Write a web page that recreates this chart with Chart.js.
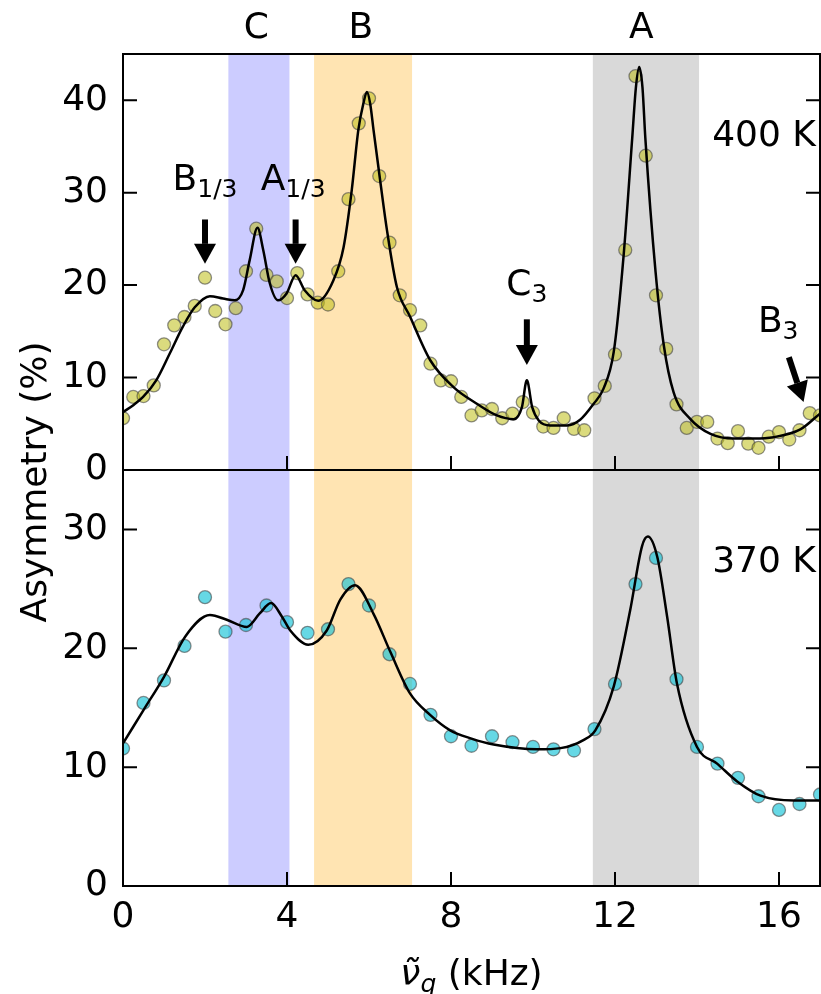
<!DOCTYPE html>
<html>
<head>
<meta charset="utf-8">
<script src="https://cdn.jsdelivr.net/npm/chart.js@4.4.1/dist/chart.umd.min.js"></script>
<style>
  html, body { margin: 0; padding: 0; background: #fff; }
  #wrap { position: relative; width: 821px; height: 994px; }
</style>
</head>
<body>
<div id="wrap"><canvas id="chart" width="821" height="994"></canvas></div>
<script>
// Measured points, 400 K panel (frequency in kHz, asymmetry in %)
const freq400 = [0, 0.25, 0.5, 0.75, 1, 1.25, 1.5, 1.75, 2, 2.25, 2.5, 2.75, 3, 3.25, 3.5, 3.75,
  4, 4.25, 4.5, 4.75, 5, 5.25, 5.5, 5.75, 6, 6.25, 6.5, 6.75, 7, 7.25, 7.5, 7.75, 8, 8.25, 8.5,
  8.75, 9, 9.25, 9.5, 9.75, 10, 10.25, 10.5, 10.75, 11, 11.25, 11.5, 11.75, 12, 12.25, 12.5,
  12.75, 13, 13.25, 13.5, 13.75, 14, 14.25, 14.5, 14.75, 15, 15.25, 15.5, 15.75, 16, 16.25,
  16.5, 16.75, 17];
const asym400 = [5.6, 7.9, 8.0, 9.15, 13.6, 15.65, 16.55, 17.75, 20.8, 17.2, 15.76, 17.5, 21.5,
  26.1, 21.1, 20.4, 18.6, 21.3, 19.0, 18.1, 17.9, 21.5, 29.3, 37.5, 40.2, 31.8, 24.6, 18.9, 17.3,
  15.65, 11.5, 9.7, 9.6, 7.9, 5.9, 6.45, 6.6, 5.6, 6.1, 7.35, 6.2, 4.7, 4.55, 5.6, 4.45, 4.3,
  7.75, 9.1, 12.5, 23.8, 42.6, 34.0, 18.9, 13.1, 7.1, 4.55, 5.2, 5.2, 3.4, 2.9, 4.2, 2.85, 2.4,
  3.6, 4.1, 3.3, 4.3, 6.15, 5.9];

// Fit curve, 400 K panel
const fitFreq400 = [0, 0.25, 0.49, 0.81, 1.14, 1.46, 1.75, 2.12, 2.44, 2.73, 2.93, 3.09, 3.28,
  3.42, 3.58, 3.78, 3.99, 4.21, 4.43, 4.76, 5.13, 5.38, 5.58, 5.74, 5.86, 5.95, 6.03, 6.11, 6.27,
  6.44, 6.68, 7.0, 7.49, 8.06, 8.63, 9.12, 9.53, 9.73, 9.85, 9.98, 10.14, 10.42, 10.83, 11.15,
  11.48, 11.72, 11.97, 12.21, 12.42, 12.51, 12.59, 12.67, 12.74, 12.99, 13.19, 13.43, 13.84,
  14.33, 14.9, 15.38, 15.87, 16.52, 17];
const fitAsym400 = [6.26, 7.0, 7.9, 9.7, 12.6, 15.5, 17.6, 18.8, 18.55, 18.36, 19.45, 22.7, 26.2,
  23.8, 20.2, 18.36, 19.1, 21.07, 19.45, 18.3, 20.5, 24.1, 30.3, 36.8, 39.6, 40.9, 39.6, 36.8,
  31.4, 25.9, 19.8, 16.6, 11.9, 8.97, 7.17, 5.9, 5.5, 6.8, 9.7, 6.8, 5.36, 4.82, 4.82, 5.43, 7.17,
  8.8, 12.8, 23.2, 35.9, 41.4, 43.6, 41.4, 35.9, 21.4, 13.5, 8.4, 5.5, 3.9, 3.4, 3.4, 3.55, 4.4,
  6.1];

// Measured points, 370 K panel
const freq370 = [0, 0.5, 1, 1.5, 2, 2.5, 3, 3.5, 4, 4.5, 5, 5.5, 6, 6.5, 7, 7.5, 8, 8.5, 9, 9.5,
  10, 10.5, 11, 11.5, 12, 12.5, 13, 13.5, 14, 14.5, 15, 15.5, 16, 16.5, 17];
const asym370 = [11.57, 15.4, 17.3, 20.2, 24.3, 21.4, 21.96, 23.6, 22.2, 21.3, 21.6, 25.4, 23.6,
  19.5, 17.0, 14.4, 12.6, 11.8, 12.6, 12.1, 11.7, 11.5, 11.4, 13.2, 17.0, 25.4, 27.6, 17.4, 11.7,
  10.3, 9.1, 7.55, 6.4, 6.9, 7.7];

// Fit curve, 370 K panel
const fitFreq370 = [0, 0.5, 1.0, 1.52, 2.12, 2.53, 3.02, 3.34, 3.61, 3.87, 4.08, 4.52, 4.97, 5.3,
  5.66, 6.11, 6.52, 7.0, 7.49, 7.98, 8.5, 9.04, 10.1, 10.67, 11.24, 11.52, 11.97, 12.37, 12.66,
  12.8, 13.03, 13.27, 13.51, 14.0, 14.49, 14.98, 15.55, 16.36, 17];
const fitAsym370 = [12.0, 14.8, 17.6, 21.0, 22.8, 22.4, 21.8, 22.95, 23.8, 22.7, 21.5, 20.3, 21.5,
  24.1, 25.3, 22.9, 19.7, 16.2, 14.4, 13.1, 12.4, 11.9, 11.5, 11.6, 12.3, 13.1, 16.8, 23.2, 28.6,
  29.4, 27.7, 22.7, 17.05, 11.7, 10.3, 8.8, 7.6, 7.2, 7.2];

// Shaded regions (kHz) and their names
const bandNames = ['C', 'B', 'A'];
const bandFrom = [2.57, 4.66, 11.46];
const bandTo = [4.06, 7.05, 14.05];
const bandPeak = [3.25, 5.8, 12.64];

const xTicks = [0, 4, 8, 12, 16];
const yTicksTop = [0, 10, 20, 30, 40];
const yTicksBottom = [0, 10, 20, 30];

const FONT = '"DejaVu Sans", sans-serif';
const bandColors = ['rgba(0,0,255,0.2)', 'rgba(255,165,0,0.3)', 'rgba(128,128,128,0.3)'];

function toPoints(xs, ys) {
  return xs.map((v, i) => ({ x: v, y: ys[i] }));
}

function keepTicks(list) {
  return scale => { scale.ticks = list.map(v => ({ value: v })); };
}

function drawArrow(ctx, x1, y1, x2, y2) {
  const ang = Math.atan2(y2 - y1, x2 - x1);
  const head = 20, half = 11;
  const bx = x2 - head * Math.cos(ang), by = y2 - head * Math.sin(ang);
  ctx.beginPath();
  ctx.lineWidth = 6;
  ctx.moveTo(x1, y1);
  ctx.lineTo(bx, by);
  ctx.stroke();
  ctx.beginPath();
  ctx.moveTo(x2, y2);
  ctx.lineTo(bx + half * Math.sin(ang), by - half * Math.cos(ang));
  ctx.lineTo(bx - half * Math.sin(ang), by + half * Math.cos(ang));
  ctx.closePath();
  ctx.fill();
}

function drawSubLabel(ctx, main, sub, cx, baseY) {
  ctx.font = '36px ' + FONT;
  const w1 = ctx.measureText(main).width;
  ctx.font = '25px ' + FONT;
  const w2 = ctx.measureText(sub).width;
  const left = cx - (w1 + w2) / 2;
  ctx.textAlign = 'left';
  ctx.textBaseline = 'alphabetic';
  ctx.font = '36px ' + FONT;
  ctx.fillText(main, left, baseY);
  ctx.font = '25px ' + FONT;
  ctx.fillText(sub, left + w1, baseY + 7);
}

const overlay = {
  id: 'overlay',
  beforeDatasetsDraw(chart) {
    const { ctx, chartArea: a, scales: { x } } = chart;
    ctx.save();
    bandFrom.forEach((from, i) => {
      const x0 = x.getPixelForValue(from), x1 = x.getPixelForValue(bandTo[i]);
      ctx.fillStyle = bandColors[i];
      ctx.fillRect(x0, a.top, x1 - x0, a.bottom - a.top);
    });
    ctx.restore();
  },
  afterDatasetsDraw(chart) {
    const { ctx, chartArea: a, scales: { x, yTop, yBot } } = chart;
    ctx.save();
    ctx.strokeStyle = '#000';
    ctx.fillStyle = '#000';
    ctx.lineWidth = 2;

    // panel frames and inward ticks
    [yTop, yBot].forEach(y => {
      ctx.strokeRect(a.left, y.top, a.right - a.left, y.bottom - y.top);
      ctx.beginPath();
      y.ticks.forEach(t => {
        const py = y.getPixelForValue(t.value);
        ctx.moveTo(a.left, py); ctx.lineTo(a.left + 14, py);
        ctx.moveTo(a.right, py); ctx.lineTo(a.right - 14, py);
      });
      x.ticks.forEach(t => {
        const px = x.getPixelForValue(t.value);
        ctx.moveTo(px, y.bottom); ctx.lineTo(px, y.bottom - 14);
      });
      ctx.stroke();
    });

    // region names above the plot
    ctx.font = '36px ' + FONT;
    ctx.textAlign = 'center';
    ctx.textBaseline = 'alphabetic';
    bandNames.forEach((n, i) => ctx.fillText(n, x.getPixelForValue(bandPeak[i]), a.top - 16));

    // temperatures
    ctx.textAlign = 'right';
    ctx.fillText('400 K', x.getPixelForValue(16.9), yTop.getPixelForValue(35));
    ctx.fillText('370 K', x.getPixelForValue(16.9), yBot.getPixelForValue(26.45));

    // harmonic labels and arrows
    const px = v => x.getPixelForValue(v), py = v => yTop.getPixelForValue(v);
    drawSubLabel(ctx, 'B', '1/3', px(2.0), py(30.3));
    drawSubLabel(ctx, 'A', '1/3', px(4.15), py(30.3));
    drawSubLabel(ctx, 'C', '3', px(9.85), py(18.9));
    drawSubLabel(ctx, 'B', '3', px(15.98), py(14.93));
    drawArrow(ctx, px(2.0), py(27.1), px(2.0), py(22.3));
    drawArrow(ctx, px(4.21), py(27.1), px(4.21), py(22.3));
    drawArrow(ctx, px(9.85), py(16.3), px(9.85), py(11.35));
    drawArrow(ctx, px(16.24), py(12.2), px(16.6), py(7.35));

    // axis titles
    ctx.save();
    ctx.translate(37, (a.top + a.bottom) / 2 + 12);
    ctx.rotate(-Math.PI / 2);
    ctx.textAlign = 'center';
    ctx.textBaseline = 'middle';
    ctx.font = '36px ' + FONT;
    ctx.fillText('Asymmetry (%)', 0, 0);
    ctx.restore();

    const nu = '\u03bd\u0303', unit = ' (kHz)';
    ctx.font = 'italic 36px ' + FONT;
    const wNu = ctx.measureText(nu).width;
    ctx.font = 'italic 25px ' + FONT;
    const wQ = ctx.measureText('q').width;
    ctx.font = '36px ' + FONT;
    const wU = ctx.measureText(unit).width;
    let left = (a.left + a.right) / 2 - (wNu + wQ + wU) / 2;
    const base = 985;
    ctx.textAlign = 'left';
    ctx.font = 'italic 36px ' + FONT;
    ctx.fillText(nu, left, base);
    ctx.font = 'italic 25px ' + FONT;
    ctx.fillText('q', left + wNu, base + 7);
    ctx.font = '36px ' + FONT;
    ctx.fillText(unit, left + wNu + wQ, base);
    ctx.restore();
  }
};

const yCommon = {
  type: 'linear',
  position: 'left',
  stack: 'panels',
  stackWeight: 1,
  grid: { display: false, drawTicks: false },
  border: { display: false },
  ticks: { color: '#000', font: { family: FONT, size: 36 }, padding: 15, autoSkip: false },
  afterFit(s) { s.width = 123; }
};

new Chart(document.getElementById('chart'), {
  type: 'scatter',
  data: {
    datasets: [
      {
        type: 'line', data: toPoints(fitFreq400, fitAsym400), yAxisID: 'yTop',
        borderColor: '#000', borderWidth: 2.5, pointRadius: 0, cubicInterpolationMode: 'monotone', order: 0
      },
      {
        data: toPoints(freq400, asym400), yAxisID: 'yTop',
        backgroundColor: 'rgba(190,190,20,0.55)', borderColor: 'rgba(70,70,70,0.6)',
        borderWidth: 1.3, pointRadius: 6.5, order: 1
      },
      {
        type: 'line', data: toPoints(fitFreq370, fitAsym370), yAxisID: 'yBot',
        borderColor: '#000', borderWidth: 2.5, pointRadius: 0, cubicInterpolationMode: 'monotone', order: 0
      },
      {
        data: toPoints(freq370, asym370), yAxisID: 'yBot',
        backgroundColor: 'rgba(20,195,215,0.65)', borderColor: 'rgba(70,70,70,0.6)',
        borderWidth: 1.3, pointRadius: 6.5, order: 1
      }
    ]
  },
  options: {
    responsive: false,
    animation: false,
    // autoPadding would push the plot in to make room for edge markers
    layout: { autoPadding: false, padding: { top: 54, left: 0, right: 1, bottom: 0 } },
    plugins: { legend: { display: false }, tooltip: { enabled: false } },
    scales: {
      x: {
        type: 'linear', min: 0, max: 17,
        grid: { display: false, drawTicks: false },
        border: { display: false },
        ticks: { color: '#000', font: { family: FONT, size: 36 }, padding: 10, autoSkip: false },
        afterBuildTicks: keepTicks(xTicks),
        afterFit(s) { s.height = 108; s.paddingLeft = 0; s.paddingRight = 0; }
      },
      // stacked scales: the one listed first ends up at the bottom
      yBot: Object.assign({}, yCommon, { min: 0, max: 35, afterBuildTicks: keepTicks(yTicksBottom) }),
      yTop: Object.assign({}, yCommon, { min: 0, max: 45, afterBuildTicks: keepTicks(yTicksTop) })
    }
  },
  plugins: [overlay]
});
</script>
</body>
</html>
